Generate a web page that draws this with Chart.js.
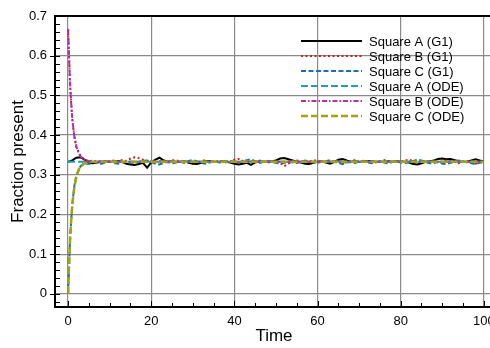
<!DOCTYPE html>
<html>
<head>
<meta charset="utf-8">
<script src="https://cdn.jsdelivr.net/npm/chart.js@4.4.1/dist/chart.umd.min.js"></script>
<style>
  html, body { margin: 0; padding: 0; background: #fff; overflow: hidden; width: 490px; height: 348px; }
  canvas { display: block; }
</style>
</head>
<body>
<canvas id="myChart" width="510" height="348"></canvas>
<script>
// time points of the stochastic (G1) runs
const tG1 = [0, 0.5, 1, 1.5, 2, 3, 4, 5, 6, 7, 8, 9,
    10, 11, 12, 13, 14, 15, 16, 17, 18, 19,
    20, 21, 22, 23, 24, 25, 26, 27, 28, 29,
    30, 31, 32, 33, 34, 35, 36, 37, 38, 39,
    40, 41, 42, 43, 44, 45, 46, 47, 48, 49,
    50, 51, 52, 53, 54, 55, 56, 57, 58, 59,
    60, 61, 62, 63, 64, 65, 66, 67, 68, 69,
    70, 71, 72, 73, 74, 75, 76, 77, 78, 79,
    80, 81, 82, 83, 84, 85, 86, 87, 88, 89,
    90, 91, 92, 93, 94, 95, 96, 97, 98, 99,
    100];
const squareA_G1 = [0.333, 0.334, 0.336, 0.340, 0.343, 0.344, 0.338, 0.330, 0.329, 0.331, 0.333, 0.334,
    0.332, 0.333, 0.335, 0.333, 0.328, 0.326, 0.325, 0.327, 0.330, 0.318,
    0.331, 0.338, 0.343, 0.336, 0.333, 0.334, 0.332, 0.333, 0.334, 0.330,
    0.328, 0.327, 0.330, 0.334, 0.335, 0.333, 0.332, 0.334, 0.333, 0.331,
    0.328, 0.326, 0.328, 0.330, 0.325, 0.331, 0.334, 0.333, 0.332, 0.334,
    0.336, 0.341, 0.342, 0.339, 0.336, 0.333, 0.331, 0.328, 0.327, 0.330,
    0.333, 0.334, 0.331, 0.328, 0.332, 0.338, 0.340, 0.336, 0.333, 0.334,
    0.332, 0.333, 0.335, 0.334, 0.333, 0.332, 0.333, 0.334, 0.333, 0.334,
    0.333, 0.332, 0.331, 0.327, 0.326, 0.329, 0.333, 0.334, 0.336, 0.340,
    0.341, 0.339, 0.340, 0.337, 0.334, 0.332, 0.333, 0.336, 0.339, 0.336,
    0.334];
const squareB_G1 = [0.667, 0.520, 0.440, 0.395, 0.370, 0.347, 0.338, 0.334, 0.336, 0.333, 0.335, 0.332,
    0.334, 0.336, 0.333, 0.337, 0.335, 0.341, 0.344, 0.342, 0.338, 0.335,
    0.333, 0.331, 0.334, 0.336, 0.333, 0.337, 0.336, 0.334, 0.332, 0.335,
    0.333, 0.331, 0.334, 0.337, 0.333, 0.332, 0.335, 0.334, 0.331, 0.333,
    0.338, 0.340, 0.335, 0.332, 0.334, 0.333, 0.336, 0.334, 0.331, 0.333,
    0.335, 0.330, 0.322, 0.328, 0.333, 0.336, 0.334, 0.332, 0.333, 0.337,
    0.335, 0.332, 0.334, 0.331, 0.333, 0.336, 0.333, 0.330, 0.334, 0.337,
    0.333, 0.332, 0.335, 0.333, 0.331, 0.334, 0.337, 0.333, 0.332, 0.334,
    0.333, 0.336, 0.338, 0.334, 0.331, 0.333, 0.335, 0.332, 0.334, 0.331,
    0.333, 0.336, 0.334, 0.332, 0.329, 0.333, 0.335, 0.333, 0.328, 0.332,
    0.334];
const squareC_G1 = [0, 0.145, 0.225, 0.272, 0.298, 0.322, 0.329, 0.327, 0.332, 0.330, 0.328, 0.331,
    0.334, 0.330, 0.328, 0.331, 0.333, 0.330, 0.331, 0.333, 0.335, 0.336,
    0.332, 0.328, 0.326, 0.330, 0.332, 0.329, 0.331, 0.333, 0.330, 0.335,
    0.337, 0.334, 0.330, 0.328, 0.331, 0.333, 0.332, 0.330, 0.334, 0.335,
    0.333, 0.331, 0.334, 0.337, 0.339, 0.334, 0.330, 0.332, 0.335, 0.332,
    0.330, 0.328, 0.330, 0.333, 0.331, 0.330, 0.333, 0.336, 0.333, 0.331,
    0.330, 0.333, 0.334, 0.337, 0.333, 0.330, 0.327, 0.331, 0.332, 0.330,
    0.333, 0.335, 0.331, 0.329, 0.332, 0.334, 0.331, 0.329, 0.332, 0.333,
    0.331, 0.329, 0.333, 0.335, 0.338, 0.336, 0.332, 0.329, 0.330, 0.333,
    0.328, 0.327, 0.330, 0.333, 0.336, 0.334, 0.331, 0.329, 0.327, 0.330,
    0.332];

// time points of the ODE solution
const tODE = [0, 0.25, 0.5, 0.75, 1, 1.25, 1.5, 2, 2.5, 3, 4, 5, 6, 8, 10, 100];
const squareA_ODE = [0.333, 0.333, 0.333, 0.333, 0.333, 0.333, 0.333, 0.333, 0.333, 0.333, 0.333, 0.333, 0.333, 0.333, 0.333, 0.333];
const squareB_ODE = [0.667, 0.587, 0.526, 0.479, 0.444, 0.418, 0.397, 0.370, 0.355, 0.346, 0.337, 0.335, 0.334, 0.333, 0.333, 0.333];
const squareC_ODE = [0, 0.080, 0.141, 0.187, 0.222, 0.249, 0.269, 0.296, 0.312, 0.321, 0.329, 0.332, 0.333, 0.333, 0.333, 0.333];

const xTicks = [0, 20, 40, 60, 80, 100];
const yTicks = [0, 0.1, 0.2, 0.3, 0.4, 0.5, 0.6, 0.7];
const seriesNames = ['Square A (G1)', 'Square B (G1)', 'Square C (G1)', 'Square A (ODE)', 'Square B (ODE)', 'Square C (ODE)'];

function toPoints(xs, ys) {
    return xs.map(function (x, i) { return { x: x, y: ys[i] }; });
}

const FONT = '"Liberation Sans", Arial, Helvetica, sans-serif';

// draws the legend inside the plot, minor ticks and the top frame line
const decorations = {
    id: 'decorations',
    afterDraw: function (chart) {
        const ctx = chart.ctx;
        const area = chart.chartArea;
        const xs = chart.scales.x;
        const ys = chart.scales.y;
        ctx.save();
        ctx.strokeStyle = '#000';
        ctx.lineWidth = 1;
        // minor ticks on x
        for (let v = 0; v <= 100; v += 5) {
            const px = Math.round(xs.getPixelForValue(v)) + 0.5;
            const len = (v % 20 === 0) ? 6 : 4;
            ctx.beginPath();
            ctx.moveTo(px, area.bottom);
            ctx.lineTo(px, area.bottom - len);
            ctx.stroke();
        }
        // minor ticks on y
        for (let k = -1; k <= 35; k++) {
            const v = k * 0.02;
            const py = Math.round(ys.getPixelForValue(v)) + 0.5;
            if (py < area.top + 2 || py > area.bottom - 1) continue;
            const major = (k % 5 === 0);
            ctx.beginPath();
            if (major) {
                ctx.moveTo(area.left - 5, py);
                ctx.lineTo(area.left + 5, py);
            } else {
                ctx.moveTo(area.left, py);
                ctx.lineTo(area.left + 5, py);
            }
            ctx.stroke();
        }
        // top frame
        ctx.lineWidth = 2;
        ctx.beginPath();
        ctx.moveTo(area.left - 1, area.top);
        ctx.lineTo(area.right, area.top);
        ctx.stroke();

        // legend
        const x0 = 301, x1 = 362, tx = 369, y0 = 41, dy = 15;
        ctx.font = '13px ' + FONT;
        ctx.textBaseline = 'middle';
        ctx.fillStyle = '#000';
        chart.data.datasets.forEach(function (ds, i) {
            const y = y0 + i * dy;
            ctx.strokeStyle = ds.borderColor;
            ctx.lineWidth = ds.borderWidth;
            ctx.setLineDash(ds.borderDash || []);
            ctx.beginPath();
            ctx.moveTo(x0, y);
            ctx.lineTo(x1, y);
            ctx.stroke();
            ctx.setLineDash([]);
            ctx.fillText(ds.label, tx, y + 1);
        });
        ctx.restore();
    }
};

const ctx = document.getElementById('myChart').getContext('2d');

const lineData = {
    datasets: [
        { label: seriesNames[0], data: toPoints(tG1, squareA_G1), borderColor: '#000000', borderWidth: 2, borderDash: [], order: 6 },
        { label: seriesNames[1], data: toPoints(tG1, squareB_G1), borderColor: '#b22a22', borderWidth: 2, borderDash: [2, 2.5], order: 5 },
        { label: seriesNames[2], data: toPoints(tG1, squareC_G1), borderColor: '#1f6db5', borderWidth: 2, borderDash: [5, 2.5], order: 4 },
        { label: seriesNames[3], data: toPoints(tODE, squareA_ODE), borderColor: '#1ea3a3', borderWidth: 2, borderDash: [7, 3], order: 3 },
        { label: seriesNames[4], data: toPoints(tODE, squareB_ODE), borderColor: '#b52db5', borderWidth: 2, borderDash: [5, 2, 1.5, 2], order: 2 },
        { label: seriesNames[5], data: toPoints(tODE, squareC_ODE), borderColor: '#a3a30f', borderWidth: 2.5, borderDash: [7, 3], order: 1 }
    ]
};
lineData.datasets.forEach(function (ds) {
    ds.fill = false;
    ds.pointRadius = 0;
    ds.tension = 0;
    ds.borderCapStyle = 'butt';
});

const lineOptions = {
    responsive: false,
    animation: false,
    devicePixelRatio: 1,
    layout: { padding: { top: 16, right: 17, bottom: 0, left: 0 } },
    plugins: {
        legend: { display: false },
        tooltip: { enabled: false }
    },
    scales: {
        x: {
            type: 'linear',
            min: -3.15,
            max: 102.2,
            afterBuildTicks: function (scale) {
                scale.ticks = xTicks.map(function (v) { return { value: v }; });
            },
            afterFit: function (scale) { scale.height = 41; },
            grid: { color: '#8a8a8a', lineWidth: 1.2, drawTicks: false },
            border: { display: true, color: '#000', width: 2 },
            ticks: { padding: 7, color: '#000', font: { family: FONT, size: 13 }, maxRotation: 0 },
            title: { display: true, text: 'Time', color: '#000', font: { family: FONT, size: 17 }, padding: { top: 0, bottom: 1 } }
        },
        y: {
            type: 'linear',
            min: -0.033,
            max: 0.7,
            afterBuildTicks: function (scale) {
                scale.ticks = yTicks.map(function (v) { return { value: v }; });
            },
            afterFit: function (scale) { scale.width = 55; },
            grid: { color: '#8a8a8a', lineWidth: 1.2, drawTicks: false },
            border: { display: true, color: '#000', width: 2 },
            ticks: { padding: 8, color: '#000', font: { family: FONT, size: 13 } },
            title: { display: true, text: 'Fraction present', color: '#000', font: { family: FONT, size: 17 }, padding: { top: 8, bottom: 0 } }
        }
    }
};

new Chart(ctx, {
    type: 'line',
    data: lineData,
    options: lineOptions,
    plugins: [decorations]
});
</script>
</body>
</html>
